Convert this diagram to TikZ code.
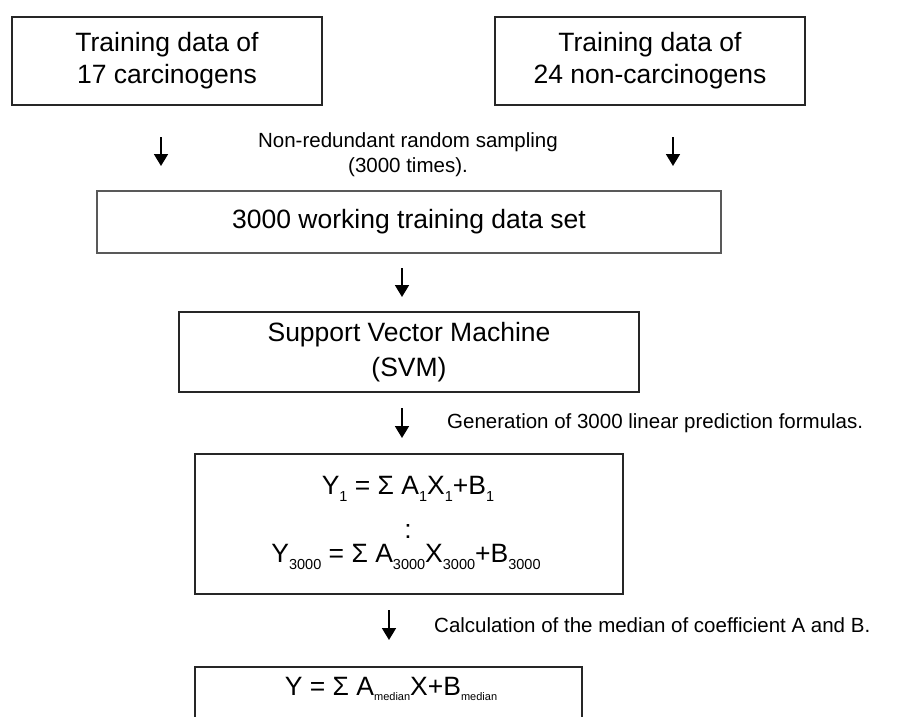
\documentclass[tikz,border=0pt]{standalone}
\usepackage{fontspec}
\setmainfont{Liberation Sans}
\usetikzlibrary{arrows.meta}
\newcommand\BigTxt{\fontsize{26.5}{32}\selectfont}
\newcommand\SmallTxt{\fontsize{20.5}{25}\selectfont}
\newcommand\SubN[1]{\raisebox{-7pt}{\fontsize{14.5}{14.5}\selectfont #1}}
\newcommand\SubM[1]{\raisebox{-5pt}{\fontsize{11}{11}\selectfont #1}}
\begin{document}
\begin{tikzpicture}[x=1pt,y=-1pt,
  box/.style={draw=black!85, line width=1.3pt, inner sep=0pt, outer sep=0pt, align=center, font=\BigTxt},
  graybox/.style={box, draw=black!65, line width=2pt},
  openbox/.style={draw=black!85, line width=1.3pt},
  flowarrow/.style={-{Triangle[width=14pt,length=12pt]}, line width=1.8pt},
  small/.style={font=\SmallTxt, inner sep=0pt, align=center},
  formula/.style={font=\BigTxt, inner sep=0pt, anchor=base}]
\useasboundingbox (0,0) rectangle (919,717);
% boxes
\node[box, minimum width=310pt, minimum height=88pt] (b1) at (167,61) {Training data of\\17 carcinogens};
\node[box, minimum width=310pt, minimum height=88pt] (b2) at (650,61) {Training data of\\24 non-carcinogens};
\node[graybox, minimum width=624pt, minimum height=62pt] (b3) at (409,222) {3000 working training data set};
\node[box, minimum width=460pt, minimum height=80pt, font=\fontsize{26.5}{35}\selectfont] (b4) at (409,352) {Support Vector Machine\\(SVM)};
\node[box, minimum width=428pt, minimum height=140pt] (b5) at (409,524) {};
\node[formula] (f1) at (408,494) {Y\SubN{1} = Σ A\SubN{1}X\SubN{1}+B\SubN{1}};
\node[font=\BigTxt, inner sep=0pt] (fd) at (408,531) {:};
\node[formula] (f2) at (406,562) {Y\SubN{3000} = Σ A\SubN{3000}X\SubN{3000}+B\SubN{3000}};
% open final box
\coordinate (b6bl) at (195,717);
\coordinate (b6tl) at (195,667);
\coordinate (b6tr) at (582,667);
\coordinate (b6br) at (582,717);
\draw[openbox] (b6bl) -- (b6tl) -- (b6tr) -- (b6br);
\node[formula] (b6) at (391,695) {Y = Σ A\SubM{median}X+B\SubM{median}};
% labels
\node[small] (l1) at (408,154.5) {Non-redundant random sampling\\(3000 times).};
\node[small, anchor=west] (l2) at (447,423) {Generation of 3000 linear prediction formulas.};
\node[small, anchor=west] (l3) at (434,625) {Calculation of the median of coefficient A and B.};
% arrows
\coordinate (a1s) at (161,137); \coordinate (a1e) at (161,166);
\coordinate (a2s) at (673,137); \coordinate (a2e) at (673,166);
\coordinate (a3s) at (402,268); \coordinate (a3e) at (402,297);
\coordinate (a4s) at (402,408); \coordinate (a4e) at (402,438);
\coordinate (a5s) at (389,610); \coordinate (a5e) at (389,640);
\draw[flowarrow] (a1s) -- (a1e);
\draw[flowarrow] (a2s) -- (a2e);
\draw[flowarrow] (a3s) -- (a3e);
\draw[flowarrow] (a4s) -- (a4e);
\draw[flowarrow] (a5s) -- (a5e);
\end{tikzpicture}
\end{document}
